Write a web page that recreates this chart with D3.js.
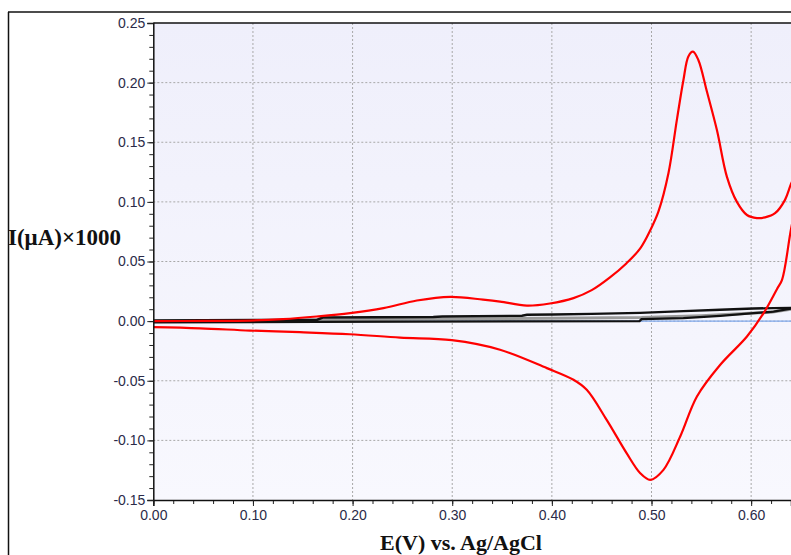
<!DOCTYPE html>
<html><head><meta charset="utf-8">
<script src="https://cdn.jsdelivr.net/npm/d3@7"></script>
<style>html,body{margin:0;padding:0;background:#fff;overflow:hidden}</style>
</head><body>
<svg id="c" width="791" height="555"></svg>
<script>
// ---- data ----
const xTicks = [0, 0.1, 0.2, 0.3, 0.4, 0.5, 0.6];
const yTicks = [-0.15, -0.10, -0.05, 0, 0.05, 0.10, 0.15, 0.20, 0.25];
const redFwdE = [0, 0.05, 0.097, 0.13, 0.164, 0.1975, 0.231, 0.2645, 0.298, 0.331, 0.348, 0.375, 0.398, 0.4217, 0.44, 0.458, 0.475, 0.4887, 0.499, 0.507, 0.517, 0.5255, 0.532, 0.537, 0.5416, 0.547, 0.5556, 0.5657, 0.5757, 0.5857, 0.5958, 0.6058, 0.614, 0.624, 0.634, 0.640, 0.648];
const redFwdI = [0, 0.0002, 0.0005, 0.0017, 0.0039, 0.0067, 0.0109, 0.0173, 0.0204, 0.018, 0.0164, 0.013, 0.0148, 0.0193, 0.026, 0.0365, 0.0486, 0.061, 0.0766, 0.092, 0.124, 0.169, 0.202, 0.222, 0.226, 0.219, 0.1925, 0.160, 0.121, 0.100, 0.089, 0.0864, 0.087, 0.0905, 0.1017, 0.115, 0.13];
const redRevE = [0.648, 0.640, 0.631, 0.626, 0.6125, 0.5958, 0.569, 0.5456, 0.5288, 0.512, 0.4987, 0.4887, 0.475, 0.455, 0.435, 0.4217, 0.395, 0.348, 0.2996, 0.2477, 0.197, 0.147, 0.097, 0.047, 0];
const redRevI = [0.11, 0.077, 0.0346, 0.027, 0.0067, -0.0129, -0.0366, -0.0632, -0.0968, -0.1247, -0.1331, -0.1275, -0.1107, -0.0828, -0.0576, -0.0492, -0.0394, -0.024, -0.016, -0.0138, -0.011, -0.0093, -0.0079, -0.006, -0.005];
const blackUpE = [0, 0.05, 0.164, 0.17, 0.281, 0.29, 0.37, 0.375, 0.4016, 0.44, 0.4886, 0.532, 0.569, 0.6025, 0.6225, 0.64, 0.648];
const blackUpI = [0.0005, 0.0008, 0.001, 0.003, 0.0034, 0.0039, 0.0045, 0.0053, 0.0055, 0.0061, 0.0069, 0.0084, 0.0095, 0.0106, 0.0109, 0.011, 0.011];
const blackLoE = [0, 0.164, 0.488, 0.49, 0.532, 0.569, 0.6025, 0.6225, 0.64, 0.648];
const blackLoI = [-0.001, -0.0006, 0, 0.0017, 0.0025, 0.0044, 0.0067, 0.008, 0.0105, 0.011];
const grayE = [0, 0.17, 0.28, 0.40, 0.49, 0.55, 0.62, 0.648];
const grayI = [0, 0.001, 0.0018, 0.0025, 0.003, 0.0045, 0.0075, 0.011];
const blueE = [0, 0.648];
const blueI = [0, 0];

// ---- layout ----
const svg = d3.select('#c');
const L = 153.3, R = 791, T = 23, B = 500;
const x = d3.scaleLinear().domain([0, 0.64]).range([L, R]);
const y = d3.scaleLinear().domain([-0.15, 0.25]).range([B, T]);

const defs = svg.append('defs');
const grad = defs.append('linearGradient').attr('id','bg').attr('x1',0).attr('y1',0).attr('x2',0).attr('y2',1);
grad.append('stop').attr('offset','0%').attr('stop-color','#efeffb');
grad.append('stop').attr('offset','100%').attr('stop-color','#f8f8fe');
defs.append('clipPath').attr('id','clip').append('rect').attr('x',L).attr('y',T).attr('width',R-L).attr('height',B-T);

// outer frame
svg.append('line').attr('x1',8).attr('x2',791).attr('y1',12).attr('y2',12).attr('stroke','#111').attr('stroke-width',1.5);
svg.append('line').attr('x1',8.5).attr('x2',8.5).attr('y1',12).attr('y2',555).attr('stroke','#111').attr('stroke-width',1.5);

// plot background
svg.append('rect').attr('x',L).attr('y',T).attr('width',R-L).attr('height',B-T).attr('fill','url(#bg)');

// grid
const g = svg.append('g');
g.selectAll('.gx').data(xTicks.filter(d=>d>0)).enter().append('line')
  .attr('x1',d=>x(d)).attr('x2',d=>x(d)).attr('y1',T).attr('y2',B)
  .attr('stroke','#a8a8a8').attr('stroke-width',1).attr('stroke-dasharray','2,2');
g.selectAll('.gy').data(yTicks.filter(d=>d>-0.15 && d<0.25)).enter().append('line')
  .attr('x1',L).attr('x2',R).attr('y1',d=>y(d)).attr('y2',d=>y(d))
  .attr('stroke','#a8a8a8').attr('stroke-width',1).attr('stroke-dasharray','2,2');

// curves
const line = d3.line().x(d=>x(d[0])).y(d=>y(d[1])).curve(d3.curveCatmullRom.alpha(0.5));
const lin = d3.line().x(d=>x(d[0])).y(d=>y(d[1]));
const cg = svg.append('g').attr('clip-path','url(#clip)');
const zip = (a,b)=>a.map((v,i)=>[v,b[i]]);
cg.append('path').attr('d',lin(zip(blueE,blueI))).attr('fill','none').attr('stroke','#7fa8ec').attr('stroke-width',1.2);
cg.append('path').attr('d',lin(zip(grayE,grayI))).attr('fill','none').attr('stroke','#9a9a9a').attr('stroke-width',3);
cg.append('path').attr('d',lin(zip(blackUpE,blackUpI))).attr('fill','none').attr('stroke','#111').attr('stroke-width',2.4);
cg.append('path').attr('d',lin(zip(blackLoE,blackLoI))).attr('fill','none').attr('stroke','#111').attr('stroke-width',2.4);
cg.append('path').attr('d',line(zip(redFwdE,redFwdI))).attr('fill','none').attr('stroke','#ff0000').attr('stroke-width',2.2).attr('stroke-linejoin','round');
cg.append('path').attr('d',line(zip(redRevE,redRevI))).attr('fill','none').attr('stroke','#ff0000').attr('stroke-width',2.2).attr('stroke-linejoin','round');

// top border of plot
svg.append('line').attr('x1',L).attr('x2',R).attr('y1',T).attr('y2',T).attr('stroke','#111').attr('stroke-width',1.5);

// axes
const tickColor = '#2b2b48';
const fmt = d => d3.format('.2f')(d).replace('\u2212','-');
const yMinor = d3.range(-15, 26).map(v=>v/100);
const xMinor = d3.range(0, 33).map(v=>v/50);
const ax = svg.append('g').attr('transform',`translate(${L},0)`)
  .call(d3.axisLeft(y).tickValues(yMinor).tickSize(4).tickFormat(''));
ax.select('.domain').remove();
ax.selectAll('line').attr('stroke','#222');
const ay = svg.append('g').attr('transform',`translate(${L},0)`)
  .call(d3.axisLeft(y).tickValues(yTicks).tickSize(6).tickPadding(2).tickFormat(fmt));
ay.select('.domain').attr('stroke','#111').attr('stroke-width',1.5);
ay.selectAll('line').attr('stroke','#222');
ay.selectAll('text').attr('fill',tickColor).style('font-family','Liberation Sans, Arial, sans-serif').style('font-size','14px');

const bx = svg.append('g').attr('transform',`translate(0,${B})`)
  .call(d3.axisBottom(x).tickValues(xMinor).tickSize(4).tickFormat(''));
bx.select('.domain').remove();
bx.selectAll('line').attr('stroke','#222');
const bxm = svg.append('g').attr('transform',`translate(0,${B})`)
  .call(d3.axisBottom(x).tickValues(xTicks).tickSize(6).tickPadding(4).tickFormat(fmt));
bxm.select('.domain').attr('stroke','#111').attr('stroke-width',1.5);
bxm.selectAll('line').attr('stroke','#222');
bxm.selectAll('text').attr('fill',tickColor).style('font-family','Liberation Sans, Arial, sans-serif').style('font-size','14px');

// axis titles
svg.append('text').attr('x',8).attr('y',244.5).text('I(μA)×1000')
  .style('font-family','Liberation Serif, Times New Roman, serif').style('font-weight','bold').style('font-size','23px').attr('fill','#111');
svg.append('text').attr('x',461).attr('y',550).attr('text-anchor','middle').text('E(V) vs. Ag/AgCl')
  .style('font-family','Liberation Serif, Times New Roman, serif').style('font-weight','bold').style('font-size','22px').attr('fill','#111');
</script>
</body></html>
